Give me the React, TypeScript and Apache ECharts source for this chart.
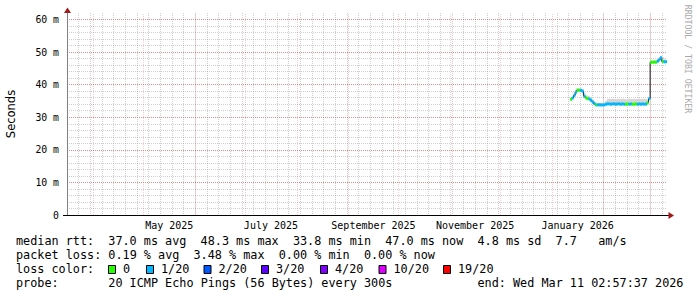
import React, { useEffect, useRef } from 'react';
import * as echarts from 'echarts';

// ---------- time range ----------
const RANGE_START = '2025-03-16T02:57:37Z';
const RANGE_END = '2026-03-11T02:57:37Z';

// month boundaries (major grid) and month labels
const monthStarts = [
  '2025-04-01', '2025-05-01', '2025-06-01', '2025-07-01', '2025-08-01', '2025-09-01',
  '2025-10-01', '2025-11-01', '2025-12-01', '2026-01-01', '2026-02-01', '2026-03-01',
];
const monthLabels = ['May 2025', 'July 2025', 'September 2025', 'November 2025', 'January 2026'];
const monthLabelAt = [
  '2025-05-16T12:00:00Z', '2025-07-16T12:00:00Z', '2025-09-16T00:00:00Z',
  '2025-11-16T00:00:00Z', '2026-01-16T12:00:00Z',
];

// ---------- y ticks ----------
const yMax = 62;
const yMajor = 10;
const yMinor = 2;

// ---------- data (ms) ----------
const dates = [
  '2026-01-12', '2026-01-13', '2026-01-14', '2026-01-15', '2026-01-16', '2026-01-17', '2026-01-18',
  '2026-01-19', '2026-01-20', '2026-01-21', '2026-01-22', '2026-01-23', '2026-01-24', '2026-01-25',
  '2026-01-26', '2026-01-27', '2026-01-28', '2026-01-29', '2026-01-30', '2026-01-31',
  '2026-02-01', '2026-02-02', '2026-02-03', '2026-02-04', '2026-02-05', '2026-02-06', '2026-02-07',
  '2026-02-08', '2026-02-09', '2026-02-10', '2026-02-11', '2026-02-12', '2026-02-13', '2026-02-14',
  '2026-02-15', '2026-02-16', '2026-02-17', '2026-02-18', '2026-02-19', '2026-02-20', '2026-02-21',
  '2026-02-22', '2026-02-23', '2026-02-24', '2026-02-25', '2026-02-26', '2026-02-27', '2026-02-28',
  '2026-03-01', '2026-03-02', '2026-03-03', '2026-03-04', '2026-03-05', '2026-03-06', '2026-03-07',
  '2026-03-08', '2026-03-09', '2026-03-10',
];
const median = [
  35.5, 35.9, 36.7, 37.7, 38.3, 38.3, 38.2,
  38.0, 36.5, 35.9, 35.7, 35.6, 35.2, 34.7,
  34.2, 33.8, 33.8, 33.8, 33.8, 33.8,
  33.8, 34.0, 34.1, 34.1, 34.0, 34.1, 34.1,
  34.0, 34.1, 34.1, 34.0, 34.1, 34.0, 34.0,
  34.1, 34.0, 34.1, 34.0, 34.0, 34.1, 34.0,
  34.1, 34.0, 34.1, 34.0, 34.1, 34.4, 35.7,
  46.9, 46.9, 46.9, 46.9, 47.2, 47.6, 48.3,
  47.1, 47.0, 47.0,
];
const smokeTop = [
  36.0, 36.3, 37.2, 38.6, 38.9, 38.9, 38.9,
  38.7, 37.6, 36.8, 36.6, 36.4, 36.0, 35.4,
  35.0, 34.4, 34.3, 34.4, 34.3, 34.4,
  34.5, 35.0, 35.6, 35.7, 35.6, 35.7, 35.6,
  35.5, 35.7, 35.6, 35.6, 35.7, 35.6, 35.5,
  35.6, 35.7, 35.6, 35.6, 35.7, 35.6, 35.6,
  35.7, 35.6, 35.6, 35.7, 35.6, 35.4, 36.0,
  47.4, 47.4, 47.5, 47.5, 47.9, 48.4, 48.7,
  48.5, 47.9, 47.6,
];
const lossCount = [
  0, 1, 1, 1, 0, 0, 1,
  1, 1, 0, 0, 1, 1, 1,
  1, 0, 1, 1, 1, 1,
  1, 1, 1, 1, 1, 1, 1,
  1, 1, 1, 1, 1, 1, 0,
  0, 1, 1, 0, 0, 0, 1,
  1, 1, 1, 1, 1, 0, 1,
  0, 0, 0, 0, 1, 1, 1,
  0, 1, 1,
];

// ---------- loss legend ----------
const lossThresholds = [0, 1, 2, 3, 4, 10, 19];
const lossLabels = ['0', '1/20', '2/20', '3/20', '4/20', '10/20', '19/20'];
const lossColors = ['#26ff00', '#00b8ff', '#0059ff', '#5e00ff', '#7e00ff', '#dd00ff', '#ff0000'];
const lossBoxX = [108, 146, 203.5, 261, 320, 378.5, 443];

// ---------- legend text ----------
const legendLines = [
  'median rtt:  37.0 ms avg  48.3 ms max  33.8 ms min  47.0 ms now  4.8 ms sd  7.7   am/s',
  'packet loss: 0.19 % avg  3.48 % max  0.00 % min  0.00 % now',
  'loss color:',
  'probe:       20 ICMP Echo Pings (56 Bytes) every 300s',
];
const endText = 'end: Wed Mar 11 02:57:37 2026';
const endCol = 65;

const DAY = 86400000;
const WEEK = 7 * DAY;
const ms = (s: string) => new Date(s.length === 10 ? s + 'T00:00:00Z' : s).getTime();

function lossColor(c: number) {
  let idx = 0;
  lossThresholds.forEach((t, i) => {
    if (c >= t) idx = i;
  });
  return lossColors[idx];
}

export default function App() {
  const ref = useRef<HTMLDivElement>(null);

  useEffect(() => {
    if (!ref.current) return;
    const chart = echarts.init(ref.current, undefined, { renderer: 'svg' });

    const start = ms(RANGE_START);
    const end = ms(RANGE_END);
    const pts = dates.map((d, i) => [ms(d) + DAY / 2, median[i], smokeTop[i], lossCount[i]]);

    const MONO = 'DejaVu Sans Mono';
    const charW = 7.1;
    const x0 = 16;
    const lineY = [241, 255, 269, 283];
    const gridTop = 13;
    const gridBottom = 82;
    const plotH = 297 - gridTop - gridBottom;
    const graphics: any[] = [];

    legendLines.forEach((line, li) => {
      const re = /\S+(?: \S+)*/g;
      let m: RegExpExecArray | null;
      while ((m = re.exec(line))) {
        graphics.push({
          type: 'text',
          x: x0 + m.index * charW,
          y: lineY[li],
          style: { text: m[0], fontSize: 11.8, fontFamily: MONO, fill: '#000', align: 'left', verticalAlign: 'middle' },
        });
      }
    });
    graphics.push({
      type: 'text',
      x: x0 + endCol * charW,
      y: lineY[3],
      style: { text: endText, fontSize: 11.8, fontFamily: MONO, fill: '#000', align: 'left', verticalAlign: 'middle' },
    });
    lossLabels.forEach((lab, i) => {
      graphics.push({
        type: 'rect',
        shape: { x: lossBoxX[i] + 0.5, y: 265.5, width: 7, height: 8 },
        style: { fill: lossColors[i], stroke: '#000', lineWidth: 1 },
      });
      graphics.push({
        type: 'text',
        x: lossBoxX[i] + 15,
        y: lineY[2],
        style: { text: lab, fontSize: 11.8, fontFamily: MONO, fill: '#000', align: 'left', verticalAlign: 'middle' },
      });
    });
    graphics.push({
      type: 'text',
      x: 11,
      y: 114,
      rotation: Math.PI / 2,
      style: { text: 'Seconds', fontSize: 11.5, fontFamily: 'DejaVu Sans', fill: '#000', align: 'center', verticalAlign: 'middle' },
    });
    graphics.push({
      type: 'text',
      x: 688,
      y: 59,
      rotation: -Math.PI / 2,
      style: { text: 'RRDTOOL / TOBI OETIKER', fontSize: 8.2, fontFamily: MONO, fill: '#aaaaaa', align: 'center', verticalAlign: 'middle' },
    });
    // axis arrows / extensions
    graphics.push({ type: 'line', shape: { x1: 63, y1: 215.5, x2: 67, y2: 215.5 }, style: { stroke: '#000', lineWidth: 1 } });
    graphics.push({ type: 'line', shape: { x1: 667, y1: 215.5, x2: 669, y2: 215.5 }, style: { stroke: '#000', lineWidth: 1 } });
    graphics.push({ type: 'polygon', shape: { points: [[668.5, 212], [668.5, 219], [674, 215.5]] }, style: { fill: '#a01818' } });
    graphics.push({ type: 'polygon', shape: { points: [[64, 13], [71, 13], [67.5, 7.5]] }, style: { fill: '#a01818' } });

    const minorLine = { color: 'rgba(128,128,128,0.38)', type: [1, 1] as any, width: 1 };
    const majorLine = { color: 'rgba(255,0,0,0.32)', type: [1, 1] as any, width: 1 };
    const monthLine = { color: 'rgba(255,0,0,0.2)', type: [1, 1] as any, width: 1 };

    chart.setOption({
      animation: false,
      backgroundColor: '#ffffff',
      grid: { left: 67, right: 30, top: gridTop, bottom: gridBottom, containLabel: false, outerBoundsMode: 'none' },
      xAxis: [
        {
          type: 'value', min: start, max: end, interval: WEEK, position: 'bottom',
          axisLine: { show: true, lineStyle: { color: '#000', width: 1 } },
          axisTick: { show: false }, axisLabel: { show: false },
          splitLine: { show: true, showMinLine: false, showMaxLine: false, lineStyle: minorLine },
        },
        {
          type: 'value', min: start, max: end, position: 'bottom',
          axisLine: { show: false }, axisTick: { show: false }, splitLine: { show: false },
          axisLabel: {
            show: true,
            customValues: monthLabelAt.map(ms),
            formatter: (v: number) => {
              const i = monthLabelAt.map(ms).indexOf(v);
              return i >= 0 ? monthLabels[i] : '';
            },
            fontSize: 10, fontFamily: MONO, color: '#000', margin: 5,
            showMinLabel: true, showMaxLabel: true, hideOverlap: false,
          },
        },
        {
          type: 'value', min: start, max: end, position: 'bottom',
          axisLine: { show: false },
          axisTick: {
            show: true, inside: true, length: plotH,
            customValues: monthStarts.map(ms),
            lineStyle: monthLine,
          },
          axisLabel: { show: false },
          splitLine: { show: false },
        },
      ],
      yAxis: [
        {
          type: 'value', min: 0, max: yMax, interval: yMinor, position: 'left',
          axisLine: { show: true, lineStyle: { color: '#808080', width: 1 } },
          axisTick: { show: false }, axisLabel: { show: false },
          splitLine: { show: true, showMinLine: false, showMaxLine: false, lineStyle: minorLine },
        },
        {
          type: 'value', min: 0, max: yMax, interval: yMajor, position: 'left',
          axisLine: { show: false }, axisTick: { show: false },
          axisLabel: {
            formatter: (v: number) => (v === 0 ? '0' : v + ' m'),
            fontSize: 9.8, fontFamily: MONO, color: '#000', margin: 8, showMaxLabel: false,
          },
          splitLine: { show: true, showMinLine: false, showMaxLine: false, lineStyle: majorLine },
        },
      ],
      series: [
        {
          type: 'custom',
          name: 'smoke',
          xAxisIndex: 0, yAxisIndex: 0,
          encode: { x: 0, y: [1, 2] },
          data: pts,
          z: 2,
          renderItem: (params: any, api: any) => {
            const t = api.value(0);
            const lo = api.coord([t, api.value(1)]);
            const hi = api.coord([t, api.value(2)]);
            const w = api.size([DAY, 0])[0];
            return {
              type: 'rect',
              shape: { x: hi[0] - w / 2, y: hi[1], width: w + 0.3, height: lo[1] - hi[1] },
              style: { fill: '#d4d4d4' },
            };
          },
        },
        {
          type: 'line',
          name: 'median',
          xAxisIndex: 0, yAxisIndex: 0,
          step: 'middle',
          symbol: 'none',
          data: pts.map((p) => [p[0], p[1]]),
          lineStyle: { color: '#1a1a1a', width: 1 },
          z: 3,
        },
        {
          type: 'custom',
          name: 'loss',
          xAxisIndex: 0, yAxisIndex: 0,
          encode: { x: 0, y: 1 },
          data: pts,
          z: 4,
          renderItem: (params: any, api: any) => {
            const t = api.value(0);
            const p = api.coord([t, api.value(1)]);
            const w = api.size([DAY, 0])[0];
            return {
              type: 'rect',
              shape: { x: p[0] - w / 2, y: p[1] - 1.5, width: w + 0.2, height: 3 },
              style: { fill: lossColor(api.value(3)) },
            };
          },
        },
      ],
      graphic: graphics,
    });

    return () => chart.dispose();
  }, []);

  return (
    <div
      ref={ref}
      style={{ position: 'absolute', left: 0, top: 0, width: 697, height: 297, background: '#fff' }}
    />
  );
}
